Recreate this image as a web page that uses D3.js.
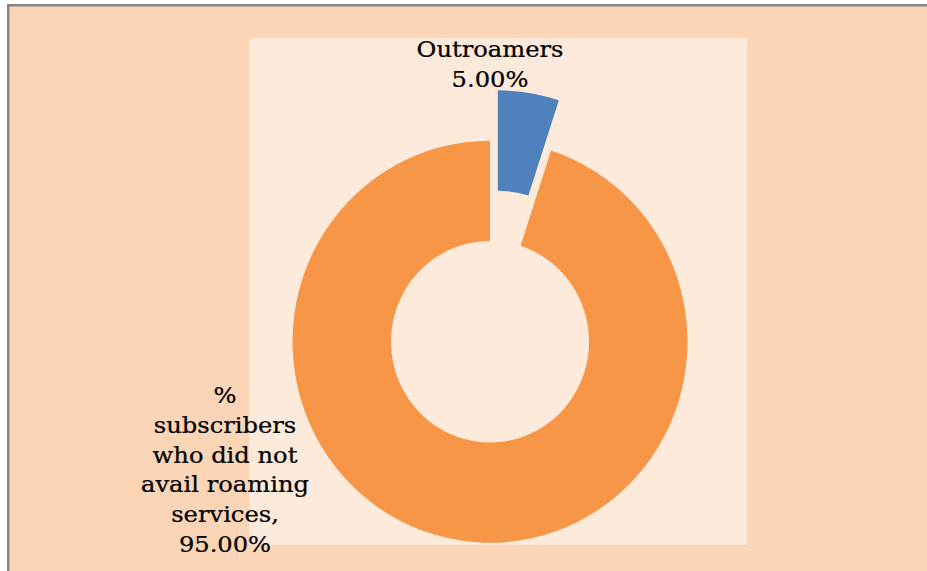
<!DOCTYPE html>
<html>
<head>
<meta charset="utf-8">
<script src="https://cdn.jsdelivr.net/npm/d3@7"></script>
<style>
  html, body { margin: 0; padding: 0; background: #ffffff; }
  svg { display: block; }
</style>
</head>
<body>
<script>
// Share of subscribers by roaming usage
const categories = ["Outroamers", "% subscribers who did not avail roaming services"];
const values = [5.00, 95.00];
const colors = ["#4F81BD", "#F79646"];
const explode = [50, 0];
// Label text broken into lines as drawn
const labelLines = [
  ["Outroamers", "5.00%"],
  ["%", "subscribers", "who did not", "avail roaming", "services,", "95.00%"]
];

const W = 927, H = 571;
const svg = d3.select("body").append("svg").attr("width", W).attr("height", H);

// Chart area
svg.append("rect").attr("x", 0).attr("y", 0).attr("width", W).attr("height", H).attr("fill", "#ffffff");
svg.append("rect")
  .attr("x", 8.25).attr("y", 5.25).attr("width", W + 20).attr("height", H + 20)
  .attr("fill", "#FBD5B5").attr("stroke", "#858585").attr("stroke-width", 2.5);

// Plot area
svg.append("rect")
  .attr("x", 249).attr("y", 38).attr("width", 498).attr("height", 507)
  .attr("fill", "#FDEADA");

const cx = 490, cy = 341.7;
const rOuter = 197.5, rInner = 99;

const pie = d3.pie().sort(null).value(d => d)(values);
const arc = d3.arc().innerRadius(rInner).outerRadius(rOuter);

const g = svg.append("g")
  .attr("transform", `translate(${cx},${cy}) scale(1,1.018)`);

g.selectAll("path.slice")
  .data(pie)
  .join("path")
  .attr("class", "slice")
  .attr("fill", (d, i) => colors[i])
  .attr("transform", (d, i) => {
    const mid = (d.startAngle + d.endAngle) / 2;
    const off = explode[i];
    return `translate(${off * Math.sin(mid)},${-off * Math.cos(mid)})`;
  })
  .attr("d", arc);

// Data labels (wide serif face)
const labelPos = [
  { x: 490, y: 57 },
  { x: 225, y: 403 }
];
const lineH = 29.8;

labelLines.forEach((lines, i) => {
  const lg = svg.append("g")
    .attr("transform", `translate(${labelPos[i].x},${labelPos[i].y}) scale(1.1,1)`);
  const t = lg.append("text")
    .attr("font-family", "'DejaVu Serif', 'Liberation Serif', serif")
    .attr("font-size", 22)
    .attr("fill", "#000000")
    .attr("stroke", "#000000")
    .attr("stroke-width", 0.25)
    .attr("text-anchor", "middle");
  lines.forEach((ln, j) => {
    t.append("tspan")
      .attr("x", 0)
      .attr("y", j * lineH)
      .text(ln);
  });
});
</script>
</body>
</html>
